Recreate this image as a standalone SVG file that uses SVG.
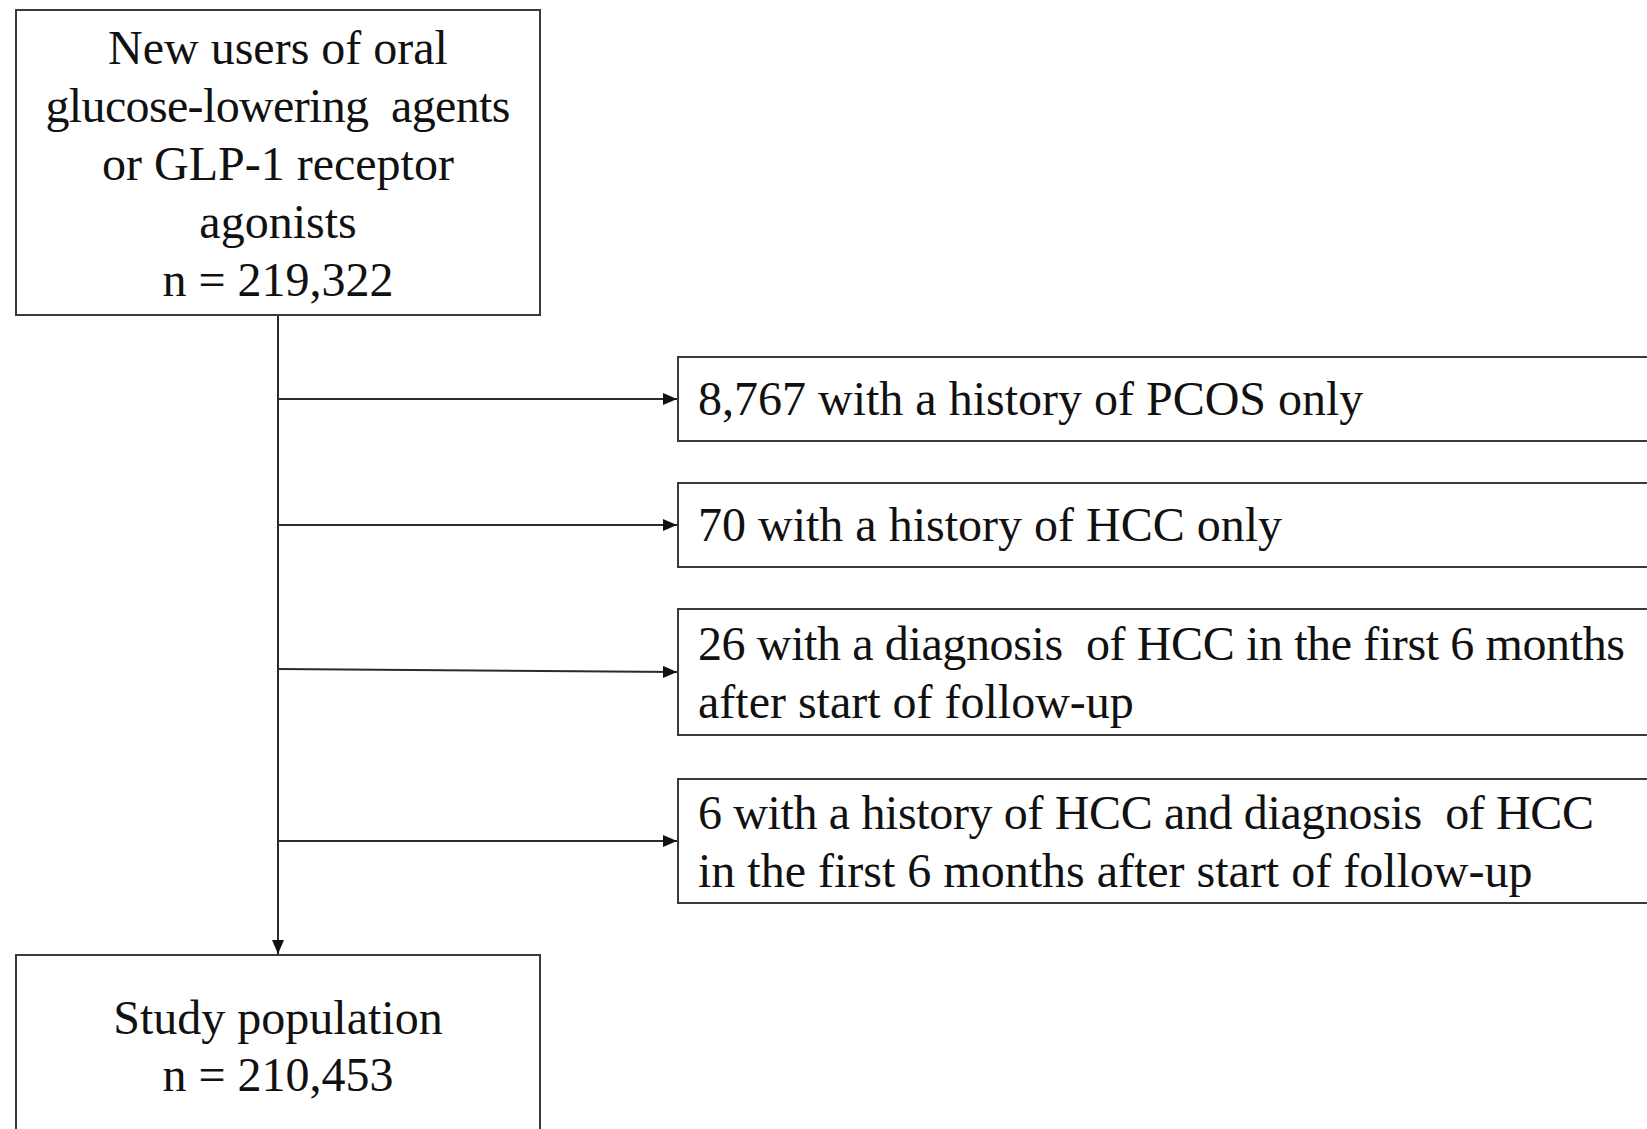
<svg xmlns="http://www.w3.org/2000/svg" width="1647" height="1129" viewBox="0 0 1647 1129">
  <defs>
    <style>
      .box { fill: #ffffff; stroke: #3a3a3a; stroke-width: 2; }
      .conn { fill: none; stroke: #2a2a2a; stroke-width: 2; }
      .t { font-family: "Liberation Serif", "Times New Roman", serif; font-size: 48px; fill: #111111; white-space: pre; }
      .c { text-anchor: middle; }
    </style>
    <marker id="arr" viewBox="0 0 14 12" refX="14" refY="6" markerWidth="14" markerHeight="12" markerUnits="userSpaceOnUse" orient="auto">
      <path d="M0,0 L14,6 L0,12 Z" fill="#111111"/>
    </marker>
  </defs>
  <rect width="1647" height="1129" fill="#ffffff"/>

  <g id="connectors">
    <line class="conn" x1="278" y1="315" x2="278" y2="954" marker-end="url(#arr)"/>
    <line class="conn" x1="278" y1="399" x2="677" y2="399" marker-end="url(#arr)"/>
    <line class="conn" x1="278" y1="525" x2="677" y2="525" marker-end="url(#arr)"/>
    <line class="conn" x1="278" y1="669" x2="677" y2="672" marker-end="url(#arr)"/>
    <line class="conn" x1="278" y1="841" x2="677" y2="841" marker-end="url(#arr)"/>
  </g>

  <g id="start">
    <rect class="box" x="16" y="10" width="524" height="305"/>
    <text class="t c" x="278" y="64">New users of oral</text>
    <text class="t c" x="278" y="122" xml:space="preserve" textLength="465" lengthAdjust="spacing">glucose-lowering  agents</text>
    <text class="t c" x="278" y="180">or GLP-1 receptor</text>
    <text class="t c" x="278" y="238">agonists</text>
    <text class="t c" x="278" y="296">n = 219,322</text>
  </g>

  <g id="excl1">
    <rect class="box" x="678" y="357" width="1000" height="84"/>
    <text class="t" x="698" y="415">8,767 with a history of PCOS only</text>
  </g>

  <g id="excl2">
    <rect class="box" x="678" y="483" width="1000" height="84"/>
    <text class="t" x="698" y="541">70 with a history of HCC only</text>
  </g>

  <g id="excl3">
    <rect class="box" x="678" y="609" width="1000" height="126"/>
    <text class="t" x="698" y="660" xml:space="preserve" textLength="927" lengthAdjust="spacing">26 with a diagnosis  of HCC in the first 6 months</text>
    <text class="t" x="698" y="718">after start of follow-up</text>
  </g>

  <g id="excl4">
    <rect class="box" x="678" y="779" width="1000" height="124"/>
    <text class="t" x="698" y="829" xml:space="preserve" textLength="896" lengthAdjust="spacing">6 with a history of HCC and diagnosis  of HCC</text>
    <text class="t" x="698" y="887">in the first 6 months after start of follow-up</text>
  </g>

  <g id="study">
    <rect class="box" x="16" y="955" width="524" height="200"/>
    <text class="t c" x="278" y="1034">Study population</text>
    <text class="t c" x="278" y="1091">n = 210,453</text>
  </g>
</svg>
